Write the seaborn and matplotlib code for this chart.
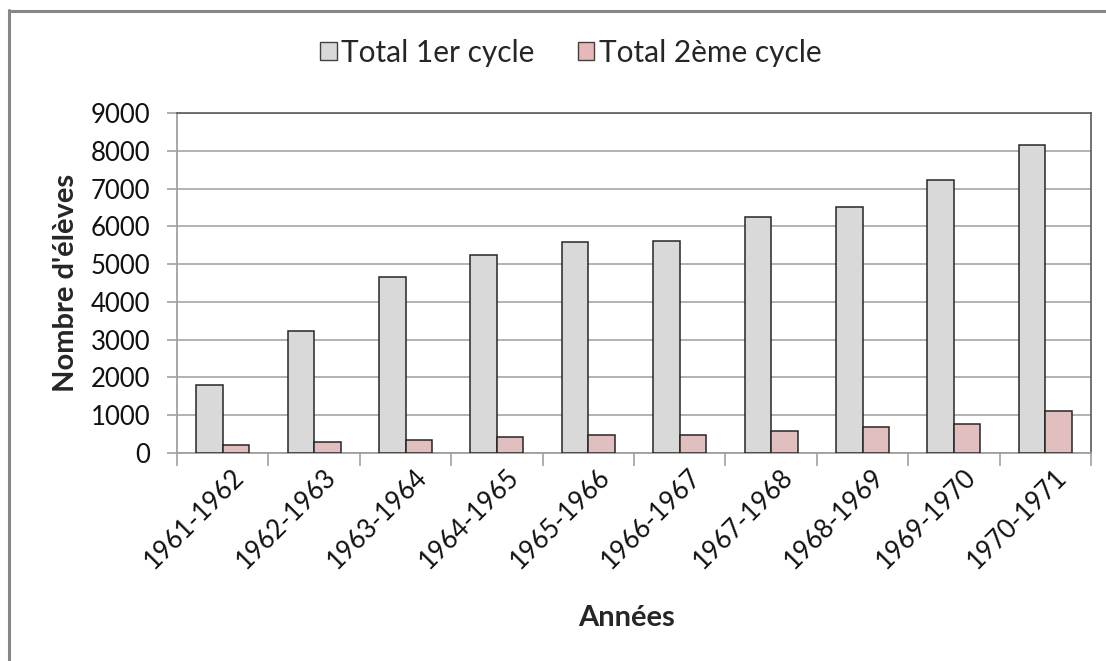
import numpy as np
import pandas as pd
import seaborn as sns
import matplotlib
matplotlib.use("Agg")
import matplotlib.pyplot as plt
import matplotlib.transforms as mtransforms
from matplotlib.lines import Line2D
from matplotlib.patches import Patch

years = ["1961-1962", "1962-1963", "1963-1964", "1964-1965", "1965-1966",
         "1966-1967", "1967-1968", "1968-1969", "1969-1970", "1970-1971"]
cycle1 = [1800, 3230, 4650, 5240, 5580, 5610, 6240, 6510, 7220, 8150]
cycle2 = [210, 280, 345, 415, 475, 480, 580, 680, 760, 1120]
series = ["Total 1er cycle", "Total 2ème cycle"]
colors = ["#D9D9D9", "#E6B9B8"]

df = pd.DataFrame({
    "annee": years * 2,
    "serie": [series[0]] * len(years) + [series[1]] * len(years),
    "valeur": cycle1 + cycle2,
})

sns.set_style("white")
plt.rcParams["font.family"] = ["Lato", "DejaVu Sans"]

fig = plt.figure(figsize=(11.06, 6.61), dpi=100)
ax = fig.add_axes([177 / 1106, 1 - 453 / 661, 914 / 1106, 340 / 661])

sns.barplot(data=df, x="annee", y="valeur", hue="serie", palette=colors,
            width=0.58, gap=0, edgecolor="#262626", linewidth=1.1,
            ax=ax, legend=False, zorder=3)

ax.set_xlim(-0.5, len(years) - 0.5)
ax.set_ylim(0, 9000)
ax.set_yticks(np.arange(0, 9001, 1000))
ax.yaxis.grid(True, color="#A6A6A6", linewidth=1.2, zorder=0)
ax.set_axisbelow(True)

for s in ["top", "right"]:
    ax.spines[s].set_color("#595959")
    ax.spines[s].set_linewidth(1.2)
for s in ["left", "bottom"]:
    ax.spines[s].set_color("#A0A0A0")
    ax.spines[s].set_linewidth(1.3)

ax.tick_params(axis="y", length=7, color="#A0A0A0", width=1.2, labelsize=18.5,
               pad=12, direction="out", left=True, labelcolor="#111111")
ax.tick_params(axis="x", which="major", length=0, labelsize=18.5, pad=8,
               labelcolor="#111111")
ax.set_xticks(np.arange(-0.5, len(years)), minor=True)
ax.tick_params(axis="x", which="minor", length=9, color="#A0A0A0", width=1.2,
               direction="out", bottom=True)
shift = mtransforms.ScaledTranslation(9 / 100, 0, fig.dpi_scale_trans)
for lab in ax.get_xticklabels():
    lab.set_rotation(45)
    lab.set_ha("right")
    lab.set_rotation_mode("anchor")
    lab.set_transform(lab.get_transform() + shift)

ax.set_xlabel("Années", fontsize=21, fontweight="bold")
ax.set_ylabel("Nombre d'élèves", fontsize=21, fontweight="bold")
ax.xaxis.set_label_coords((627 - 177) / 914, (453 - 618) / 340)
ax.yaxis.set_label_coords((66 - 177) / 914, 0.5)
ax.xaxis.label.set_verticalalignment("center")
ax.yaxis.label.set_verticalalignment("center")

handles = [Patch(facecolor=c, edgecolor="#404040", linewidth=1) for c in colors]
fig.legend(handles, series, loc="center", bbox_to_anchor=(0.516, 0.92),
           ncol=2, frameon=False, fontsize=21.5, handlelength=0.55,
           handleheight=0.55, handletextpad=0.15, columnspacing=1.45)

# chart area border (left and top visible)
fig.add_artist(Line2D([9 / 1106, 9 / 1106], [0, 1 - 10 / 661],
                      transform=fig.transFigure, color="#878787", linewidth=2.2))
fig.add_artist(Line2D([9 / 1106, 1], [1 - 11 / 661, 1 - 11 / 661],
                      transform=fig.transFigure, color="#878787", linewidth=2.2))

fig.savefig("out.png", dpi=100)
